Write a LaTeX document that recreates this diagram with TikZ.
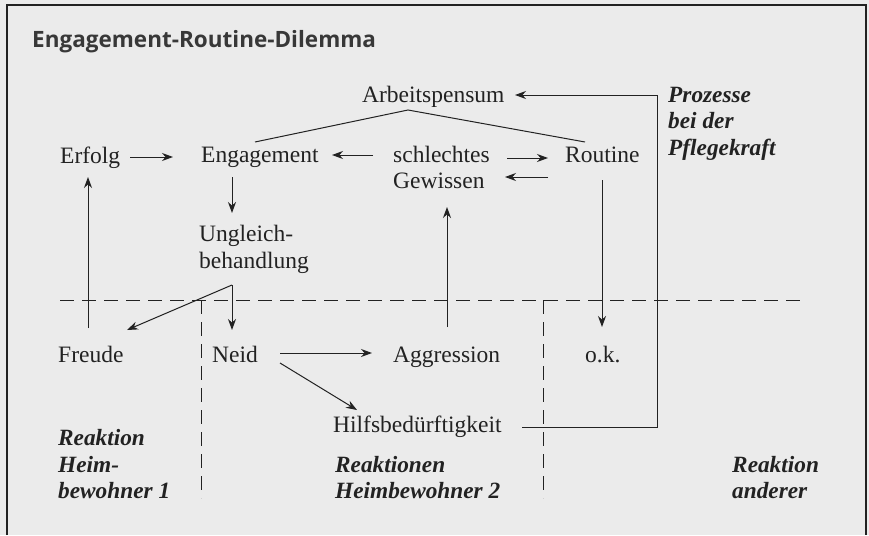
\documentclass[tikz,border=0pt]{standalone}
\usepackage{fontspec}
\setmainfont{Liberation Serif}
\newfontfamily\titlefont{Open Sans}
\usetikzlibrary{arrows.meta}
\definecolor{bgc}{HTML}{EBEBEB}
\definecolor{ink}{HTML}{222222}
\tikzset{
  x=1pt, y=-1pt,
  lbl/.style={anchor=base west, inner sep=0pt, text=ink, font=\fontsize{23.5}{26}\selectfont},
  tag/.style={lbl, font=\fontsize{23.3}{26}\selectfont\bfseries\itshape},
  conn/.style={draw=ink, line width=1pt},
  arr/.style={conn, -{Stealth[length=11pt,width=8pt]}},
  sepline/.style={draw=ink, line width=0.9pt, dash pattern=on 14pt off 8pt},
}
\begin{document}
\begin{tikzpicture}
\fill[bgc] (0,0) rectangle (869,535);
\useasboundingbox (0,0) rectangle (869,535);
\draw[ink, line width=1.2pt] (7,535) -- (7,5) -- (866,5) -- (866,535);

% title
\node[anchor=base west, inner sep=0pt, text=ink!90, font=\titlefont\bfseries\fontsize{22.5}{25}\selectfont] (title) at (32,48) {Engagement-Routine-Dilemma};

% nodes
\node[lbl] (arbeit) at (362,102) {Arbeitspensum};
\node[lbl] (erfolg) at (60,163) {Erfolg};
\node[lbl] (engage) at (201,162) {Engagement};
\node[lbl] (schl) at (393,162) {schlechtes};
\node[lbl] (gew) at (393,188) {Gewissen};
\node[lbl] (routine) at (565,162) {Routine};
\node[lbl] (ungl) at (199,241) {Ungleich-};
\node[lbl] (behand) at (199,268) {behandlung};
\node[lbl] (freude) at (58,362) {Freude};
\node[lbl] (neid) at (212,362) {Neid};
\node[lbl] (aggr) at (393,362) {Aggression};
\node[lbl] (ok) at (585,362) {o.k.};
\node[lbl] (hilfs) at (333,432) {Hilfsbedürftigkeit};

\node[tag] (proz1) at (668,102) {Prozesse};
\node[tag] (proz2) at (668,128) {bei der};
\node[tag] (proz3) at (668,155) {Pflegekraft};
\node[tag] (rh1) at (58,445) {Reaktion};
\node[tag] (rh2) at (58,472) {Heim-};
\node[tag] (rh3) at (58,498) {bewohner 1};
\node[tag] (rb1) at (335,472) {Reaktionen};
\node[tag] (rb2) at (335,498) {Heimbewohner 2};
\node[tag] (ra1) at (732,472) {Reaktion};
\node[tag] (ra2) at (732,498) {anderer};

% connector end points
\coordinate (roofL) at (255,142);
\coordinate (roofT) at (408,110);
\coordinate (roofR) at (585,142);
\coordinate (e1a) at (130,157); \coordinate (e1b) at (173,157);
\coordinate (s1a) at (373,155); \coordinate (s1b) at (332,155);
\coordinate (s2a) at (507,158); \coordinate (s2b) at (548,158);
\coordinate (r1a) at (548,177); \coordinate (r1b) at (505,177);
\coordinate (g1a) at (232,177); \coordinate (g1b) at (232,213);
\coordinate (uapex) at (232,285);
\coordinate (uneid) at (232,330);
\coordinate (ufreu) at (127,330);
\coordinate (f1a) at (88,328); \coordinate (f1b) at (88,177);
\coordinate (n1a) at (280,353); \coordinate (n1b) at (372,353);
\coordinate (n2a) at (280,363); \coordinate (n2b) at (357,410);
\coordinate (a1a) at (447,327); \coordinate (a1b) at (447,207);
\coordinate (o1a) at (602,180); \coordinate (o1b) at (602,327);
\coordinate (h1a) at (522,427); \coordinate (h1c) at (657,427);
\coordinate (h1d) at (657,95); \coordinate (h1b) at (515,95);
\coordinate (dL) at (60,300); \coordinate (dR) at (807,300);
\coordinate (d1t) at (201,300); \coordinate (d1b) at (201,498);
\coordinate (d2t) at (543,300); \coordinate (d2b) at (543,498);

% connectors
\draw[conn] (roofL) -- (roofT) -- (roofR);
\draw[arr] (e1a) -- (e1b);
\draw[arr] (s1a) -- (s1b);
\draw[arr] (s2a) -- (s2b);
\draw[arr] (r1a) -- (r1b);
\draw[arr] (g1a) -- (g1b);
\draw[arr] (uapex) -- (uneid);
\draw[arr] (uapex) -- (ufreu);
\draw[arr] (f1a) -- (f1b);
\draw[arr] (n1a) -- (n1b);
\draw[arr] (n2a) -- (n2b);
\draw[arr] (a1a) -- (a1b);
\draw[arr] (o1a) -- (o1b);
\draw[arr] (h1a) -- (h1c) -- (h1d) -- (h1b);

% dashed separators
\draw[sepline] (dL) -- (dR);
\draw[sepline] (d1t) -- (d1b);
\draw[sepline] (d2t) -- (d2b);
\end{tikzpicture}
\end{document}
